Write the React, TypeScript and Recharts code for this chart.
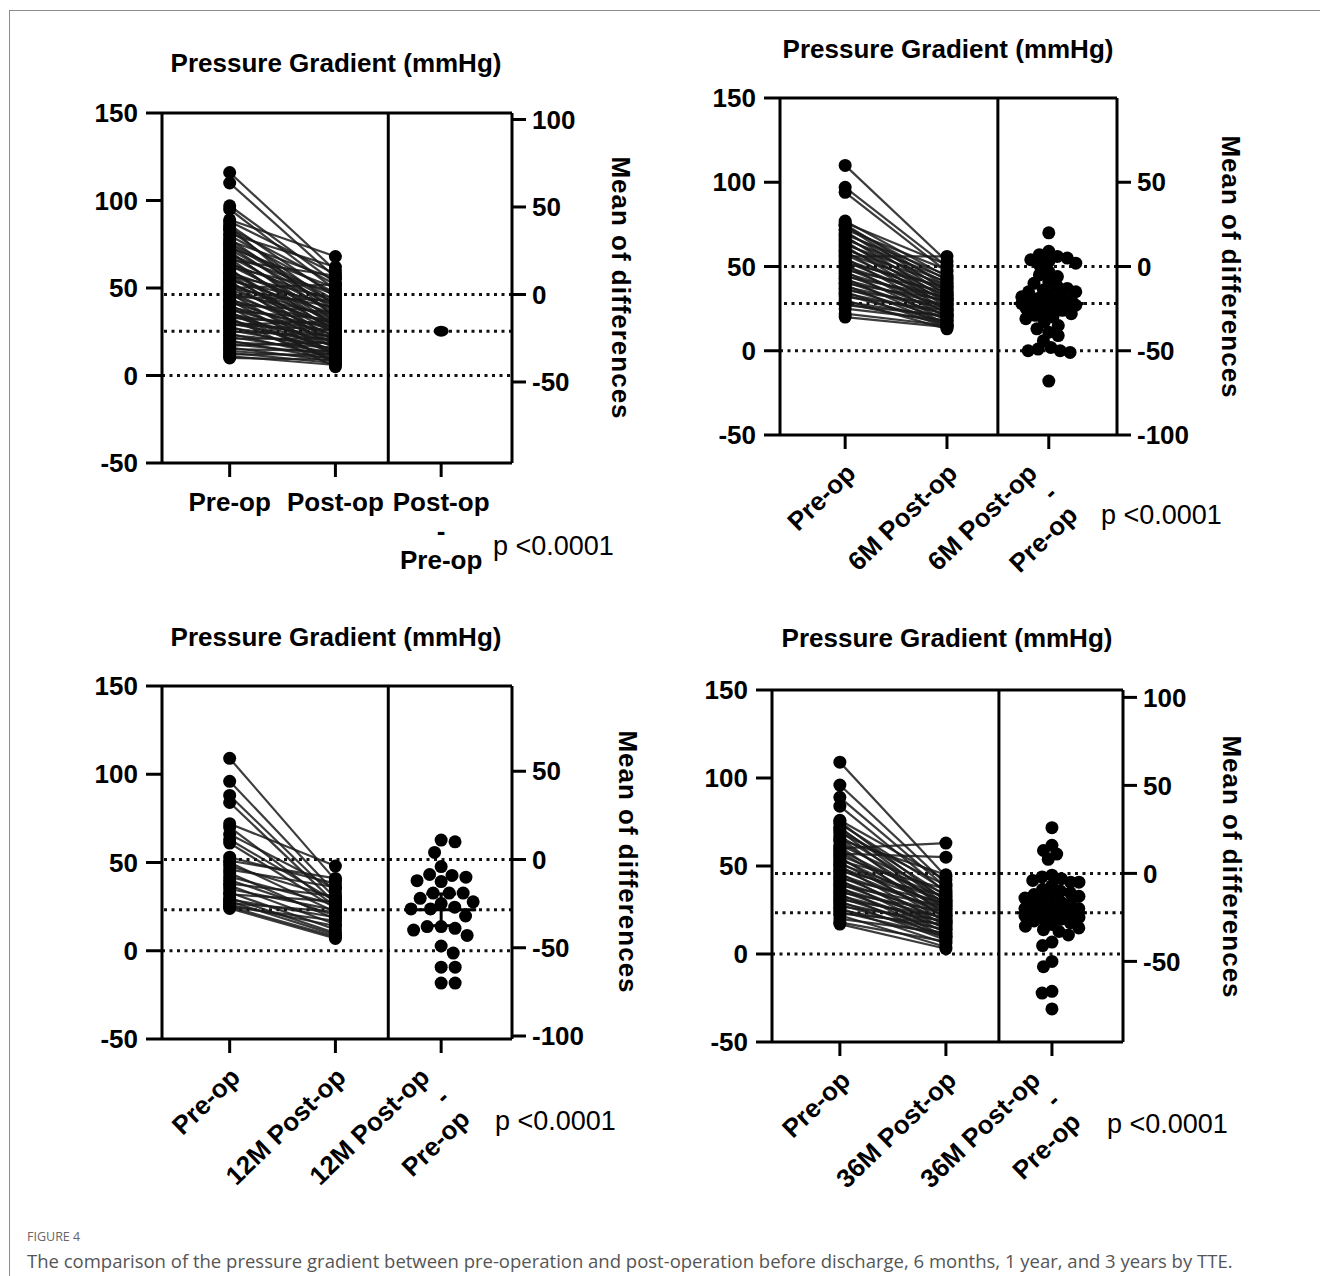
import React from 'react';
import { ComposedChart, Line, Scatter, XAxis, YAxis, ReferenceLine, ErrorBar } from 'recharts';

const FONT = '"Liberation Sans", Arial, Helvetica, sans-serif';
const CAPTION_FONT = '"Open Sans", "Noto Sans", sans-serif';

// ---------------- shared text / ticks ----------------
const titleText = 'Pressure Gradient (mmHg)';
const rightAxisTitle = 'Mean of differences';
const pValueText = 'p <0.0001';
const leftTicks = [-50, 0, 50, 100, 150];
const xPositions = [0, 1, 2];
const figureLabel = 'FIGURE 4';
const captionText =
  'The comparison of the pressure gradient between pre-operation and post-operation before discharge, 6 months, 1 year, and 3 years by TTE.';

// ---------------- Panel A: before discharge ----------------
const labelsA = [['Pre-op'], ['Post-op'], ['Post-op', '-', 'Pre-op']];
const preA = [116, 110, 97, 95, 89, 88, 86, 84, 83, 81, 80, 78, 77, 76, 74, 73, 72, 70, 69, 68, 66, 65, 64, 63, 62, 60, 59, 58, 57, 56, 55, 54, 53, 52, 51, 50, 49, 48, 47, 46, 45, 44, 43, 42, 41, 40, 39, 38, 37, 36, 35, 34, 33, 32, 31, 30, 29, 28, 27, 26, 25, 24, 23, 22, 21, 20, 19, 18, 17, 16, 15, 14, 13, 12, 11, 10, 71, 61, 54, 47, 39, 33, 85, 67, 58, 29, 43, 50, 75, 36];
const postA = [60, 56, 53, 49, 68, 58, 45, 52, 40, 62, 47, 37, 55, 43, 34, 50, 39, 31, 46, 36, 57, 28, 42, 33, 48, 26, 38, 30, 44, 24, 35, 41, 27, 32, 22, 39, 29, 20, 34, 25, 43, 18, 30, 23, 36, 16, 27, 21, 32, 14, 25, 19, 29, 13, 22, 17, 26, 11, 20, 15, 23, 10, 18, 13, 21, 9, 16, 12, 19, 8, 14, 10, 7, 12, 6, 9, 28, 19, 15, 12, 7, 5, 33, 24, 17, 31, 11, 52, 41, 8];
const diffA: number[] = [];
const meanA = -21;
const ciA = 0;
const rightTicksA = [-50, 0, 50, 100];
const rightZeroA = 46.3; // left-axis value where right axis = 0

// ---------------- Panel B: 6 months ----------------
const labelsB = [['Pre-op'], ['6M Post-op'], ['6M Post-op', '-', 'Pre-op']];
const preB = [110, 97, 94, 77, 76, 75, 74, 74, 72, 71, 70, 69, 68, 67, 66, 65, 64, 63, 62, 61, 60, 59, 58, 57, 56, 55, 54, 53, 52, 51, 50, 49, 48, 47, 46, 45, 44, 43, 42, 41, 40, 39, 38, 37, 36, 35, 34, 33, 32, 30, 29, 28, 27, 25, 22, 20];
const postB = [53, 50, 47, 44, 51, 38, 42, 35, 48, 33, 40, 45, 30, 37, 43, 28, 34, 41, 26, 32, 39, 24, 36, 30, 56, 22, 33, 28, 38, 20, 31, 25, 35, 18, 29, 23, 32, 16, 27, 21, 30, 15, 25, 19, 27, 14, 22, 17, 24, 13, 20, 16, 21, 18, 15, 14];
const diffB = [20, 9, 7, 6, 5, 4, 3, 2, 1, -3, -5, -6, -9, -10, -12, -13, -14, -15, -15, -16, -17, -18, -19, -20, -20, -21, -21, -22, -22, -23, -23, -24, -24, -25, -26, -27, -28, -29, -30, -31, -33, -35, -37, -39, -41, -44, -48, -49, -50, -50, -51, -68];
const meanB = -22;
const ciB = 5;
const rightTicksB = [-100, -50, 0, 50];
const rightZeroB = 50;

// ---------------- Panel C: 12 months ----------------
const labelsC = [['Pre-op'], ['12M Post-op'], ['12M Post-op', '-', 'Pre-op']];
const preC = [109, 96, 88, 84, 72, 70, 66, 63, 61, 53, 51, 50, 48, 46, 44, 42, 40, 38, 37, 35, 33, 32, 30, 29, 28, 27, 26, 25, 25, 24];
const postC = [40, 33, 30, 27, 48, 25, 35, 28, 24, 38, 41, 22, 30, 36, 18, 26, 20, 31, 15, 23, 12, 28, 10, 19, 9, 22, 14, 8, 17, 7];
const diffC = [11, 10, 4, -4, -8.5, -9, -10, -12, -12.5, -19, -19, -19, -22, -24, -25, -27, -28, -28, -32, -38, -38, -39, -40, -43, -49, -53, -61, -61, -70, -70];
const meanC = -28.5;
const ciC = 9;
const rightTicksC = [-100, -50, 0, 50];
const rightZeroC = 51.7;

// ---------------- Panel D: 36 months ----------------
const labelsD = [['Pre-op'], ['36M Post-op'], ['36M Post-op', '-', 'Pre-op']];
const preD = [109, 96, 89, 84, 76, 75, 74, 72, 71, 70, 69, 67, 66, 65, 64, 62, 61, 60, 59, 58, 57, 56, 55, 54, 53, 52, 51, 50, 49, 48, 47, 46, 45, 44, 43, 42, 41, 40, 39, 38, 37, 36, 35, 34, 33, 32, 31, 30, 29, 28, 27, 26, 25, 24, 23, 22, 20, 18, 17];
const postD = [44, 40, 38, 35, 42, 30, 36, 28, 33, 25, 39, 31, 22, 45, 27, 34, 20, 63, 29, 24, 55, 32, 18, 26, 37, 21, 30, 16, 28, 23, 33, 14, 25, 19, 29, 12, 22, 17, 27, 10, 20, 15, 24, 9, 18, 13, 21, 8, 16, 11, 19, 6, 14, 10, 17, 4, 12, 7, 3];
const diffD = [26, 16, 13, 11, 8, -1, -2, -3, -4, -5, -5, -7, -9, -10, -11, -12, -13, -13, -14, -15, -16, -17, -18, -19, -20, -20, -21, -21, -22, -22, -23, -24, -25, -26, -26, -27, -28, -29, -30, -31, -32, -33, -35, -39, -41, -50, -53, -67, -68, -77];
const meanD = -22.4;
const ciD = 5;
const rightTicksD = [-50, 0, 50, 100];
const rightZeroD = 45.8;

// ---------------- layout ----------------
const X_DOMAIN: [number, number] = [-0.64, 2.67];
const DOT_R = 6.5;

type Box = { x0: number; x1: number; y0: number; y1: number };
type Cfg = {
  id: string;
  frame: { x: number; y: number; w: number; h: number };
  box: Box;
  labels: string[][];
  rotated: boolean;
  pre: number[];
  post: number[];
  diffs: number[];
  mean: number;
  ci: number;
  rightTicks: number[];
  rightZero: number;
  swarmGap: number;
  swarmHalf: number;
  title: [number, number];
  pval: [number, number];
  rTitle: [number, number];
};

const panels: Cfg[] = [
  { id: 'A', frame: { x: 0, y: 0, w: 660, h: 600 }, box: { x0: 162, x1: 512, y0: 113, y1: 463 }, labels: labelsA, rotated: false, pre: preA, post: postA, diffs: diffA, mean: meanA, ci: ciA, rightTicks: rightTicksA, rightZero: rightZeroA, swarmGap: 12, swarmHalf: 30, title: [336, 63], pval: [493, 546], rTitle: [621, 288] },
  { id: 'B', frame: { x: 660, y: 0, w: 660, h: 600 }, box: { x0: 780, x1: 1117, y0: 98, y1: 435 }, labels: labelsB, rotated: true, pre: preB, post: postB, diffs: diffB, mean: meanB, ci: ciB, rightTicks: rightTicksB, rightZero: rightZeroB, swarmGap: 10, swarmHalf: 27, title: [948, 49], pval: [1101, 515], rTitle: [1231, 267] },
  { id: 'C', frame: { x: 0, y: 600, w: 660, h: 600 }, box: { x0: 162, x1: 512, y0: 686, y1: 1039 }, labels: labelsC, rotated: true, pre: preC, post: postC, diffs: diffC, mean: meanC, ci: ciC, rightTicks: rightTicksC, rightZero: rightZeroC, swarmGap: 14, swarmHalf: 32, title: [336, 637], pval: [495, 1121], rTitle: [628, 862] },
  { id: 'D', frame: { x: 660, y: 600, w: 660, h: 600 }, box: { x0: 772, x1: 1123, y0: 690, y1: 1042 }, labels: labelsD, rotated: true, pre: preD, post: postD, diffs: diffD, mean: meanD, ci: ciD, rightTicks: rightTicksD, rightZero: rightZeroD, swarmGap: 10, swarmHalf: 27, title: [947, 638], pval: [1107, 1124], rTitle: [1232, 867] },
];

// deterministic beeswarm layout (pixel offsets) for the difference column,
// bounded to +/- half px; when the column is full the least-crowded slot is used
function swarmOffsets(values: number[], pxPerUnit: number, d: number, half: number): number[] {
  const order = values.map((_, i) => i).sort((a, b) => values[b] - values[a]);
  const placed: { x: number; y: number }[] = [];
  const out = new Array(values.length).fill(0);
  const minDist = (c: number, y: number) =>
    placed.reduce((m, p) => Math.min(m, Math.hypot(p.x - c, p.y - y)), Infinity);
  order.forEach((i, k) => {
    const y = values[i] * pxPerUnit;
    const cands = [0];
    for (const p of placed) {
      const dy = Math.abs(p.y - y);
      if (dy < d) {
        const dx = Math.sqrt(d * d - dy * dy);
        cands.push(p.x + dx, p.x - dx);
      }
    }
    const sgn = k % 2 === 0 ? 1 : -1;
    const ok = cands
      .filter((c) => Math.abs(c) <= half)
      .sort((a, b) => Math.abs(a) - Math.abs(b) || sgn * (a - b));
    let chosen: number | null = null;
    for (const c of ok) {
      if (minDist(c, y) >= d - 0.01) {
        chosen = c;
        break;
      }
    }
    if (chosen === null) {
      let best = 0;
      let bestD = -1;
      for (let s = -half; s <= half + 0.001; s += half / 6) {
        const md = minDist(s, y);
        if (md > bestD + 0.01) {
          bestD = md;
          best = s;
        }
      }
      chosen = best;
    }
    placed.push({ x: chosen, y });
    out[i] = chosen;
  });
  return out;
}

const tickTextStyle = { fontFamily: FONT, fontSize: 26, fontWeight: 700 } as const;

function makeTick(labels: string[][], rotated: boolean) {
  return function Tick(props: any) {
    const { x, y, payload } = props;
    const lines = labels[Math.round(payload.value)] || [];
    if (!rotated) {
      return (
        <g>
          {lines.map((t, i) => (
            <text key={i} x={x} y={y + 25 + i * 29} textAnchor="middle" dominantBaseline="central" fill="#000" style={tickTextStyle}>
              {t}
            </text>
          ))}
        </g>
      );
    }
    const a = 44;
    const px = Math.sin((a * Math.PI) / 180);
    const py = Math.cos((a * Math.PI) / 180);
    const shift = lines.length > 1 ? -22 : 0;
    return (
      <g>
        {lines.map((t, i) => {
          const bx = x + 12 + shift + i * 29 * px;
          const by = y + 26 + i * 29 * py;
          return (
            <text key={i} x={bx} y={by} textAnchor="end" transform={`rotate(-${a}, ${bx}, ${by})`} fill="#000" style={tickTextStyle}>
              {t}
            </text>
          );
        })}
      </g>
    );
  };
}

const dotShape = (p: any) => <circle cx={p.cx} cy={p.cy} r={DOT_R} fill="#000" />;

function Panel({ cfg }: { cfg: Cfg }) {
  const { frame, box } = cfg;
  const leftW = box.x0 - frame.x;
  const rightW = frame.x + frame.w - box.x1;
  const topM = box.y0 - frame.y;
  const xH = frame.y + frame.h - box.y1;
  const plotW = box.x1 - box.x0;
  const plotH = box.y1 - box.y0;
  const pxX = plotW / (X_DOMAIN[1] - X_DOMAIN[0]);
  const pxY = plotH / 200;
  const offs = swarmOffsets(cfg.diffs, pxY, cfg.swarmGap, cfg.swarmHalf).map((v) => v / pxX);
  const preData = cfg.pre.map((v) => ({ x: xPositions[0], y: v }));
  const postData = cfg.post.map((v) => ({ x: xPositions[1], y: v }));
  const diffData = cfg.diffs.map((v, i) => ({ x: xPositions[2] + offs[i], y: v }));
  const meanData = [{ x: xPositions[2], y: cfg.mean, ci: cfg.ci }];
  const isA = cfg.diffs.length === 0;
  const meanShape = (p: any) =>
    isA ? (
      <ellipse cx={p.cx} cy={p.cy} rx={7.5} ry={5.5} fill="#000" />
    ) : (
      <line x1={p.cx - 35} x2={p.cx + 35} y1={p.cy} y2={p.cy} stroke="#000" strokeWidth={3} />
    );
  const axisStyle = { stroke: '#000', strokeWidth: 3 };
  const dotted = { stroke: '#111', strokeWidth: 3, strokeDasharray: '3 4.5' };
  const yTick = { fill: '#000', ...tickTextStyle };
  return (
    <div style={{ position: 'absolute', left: frame.x, top: frame.y, width: frame.w, height: frame.h }}>
      <ComposedChart width={frame.w} height={frame.h} margin={{ top: topM, right: 0, bottom: 0, left: 0 }}>
        <XAxis
          dataKey="x"
          type="number"
          domain={X_DOMAIN}
          ticks={xPositions}
          allowDataOverflow
          interval={0}
          height={xH}
          tickSize={14}
          tickMargin={0}
          axisLine={axisStyle}
          tickLine={axisStyle}
          tick={makeTick(cfg.labels, cfg.rotated)}
        />
        <YAxis
          yAxisId="L"
          dataKey="y"
          type="number"
          orientation="left"
          width={leftW}
          domain={[-50, 150]}
          ticks={leftTicks}
          allowDataOverflow
          interval={0}
          tickSize={16}
          tickMargin={8}
          axisLine={axisStyle}
          tickLine={axisStyle}
          tick={yTick}
        />
        <YAxis
          yAxisId="R"
          dataKey="y"
          type="number"
          orientation="right"
          width={rightW}
          domain={[-50 - cfg.rightZero, 150 - cfg.rightZero]}
          ticks={cfg.rightTicks}
          allowDataOverflow
          interval={0}
          tickSize={14}
          tickMargin={6}
          axisLine={axisStyle}
          tickLine={axisStyle}
          tick={yTick}
        />
        <ReferenceLine yAxisId="L" y={0} {...dotted} ifOverflow="visible" />
        <ReferenceLine yAxisId="R" y={0} {...dotted} ifOverflow="visible" />
        <ReferenceLine yAxisId="R" y={cfg.mean} {...dotted} ifOverflow="visible" />
        <ReferenceLine yAxisId="L" x={1.5} stroke="#000" strokeWidth={3} ifOverflow="visible" />
        <ReferenceLine yAxisId="L" y={150} stroke="#000" strokeWidth={3} ifOverflow="visible" />
        {cfg.pre.map((v, i) => (
          <Line
            key={`l${i}`}
            yAxisId="L"
            data={[
              { x: xPositions[0], y: v },
              { x: xPositions[1], y: cfg.post[i] },
            ]}
            dataKey="y"
            type="linear"
            stroke="#1a1a1a"
            strokeOpacity={0.85}
            strokeWidth={2.2}
            dot={false}
            activeDot={false}
            isAnimationActive={false}
          />
        ))}
        <Scatter yAxisId="L" data={preData} shape={dotShape} isAnimationActive={false} />
        <Scatter yAxisId="L" data={postData} shape={dotShape} isAnimationActive={false} />
        {cfg.diffs.length > 0 && <Scatter yAxisId="R" data={diffData} shape={dotShape} isAnimationActive={false} />}
        <Scatter yAxisId="R" data={meanData} shape={meanShape} isAnimationActive={false}>
          {!isA && <ErrorBar dataKey="ci" direction="y" width={15} stroke="#000" strokeWidth={3} />}
        </Scatter>
      </ComposedChart>
    </div>
  );
}

export default function App() {
  return (
    <div style={{ position: 'absolute', left: 0, top: 0, width: 1320, height: 1276, background: '#fff', overflow: 'hidden' }}>
      <div style={{ position: 'absolute', left: 9, top: 10, width: 1320, height: 1276, borderTop: '1.5px solid #8c8c8c', borderLeft: '1.5px solid #8c8c8c' }} />
      {panels.map((p) => (
        <Panel key={p.id} cfg={p} />
      ))}
      {panels.map((p) => (
        <React.Fragment key={`t${p.id}`}>
          <div style={{ position: 'absolute', left: p.title[0], top: p.title[1], transform: 'translate(-50%, -50%)', fontFamily: FONT, fontWeight: 700, fontSize: 26, lineHeight: 1, whiteSpace: 'nowrap', color: '#000' }}>
            {titleText}
          </div>
          <div style={{ position: 'absolute', left: p.pval[0], top: p.pval[1], transform: 'translateY(-50%)', fontFamily: FONT, fontSize: 27, lineHeight: 1, whiteSpace: 'nowrap', color: '#000' }}>
            {pValueText}
          </div>
          <div style={{ position: 'absolute', left: p.rTitle[0], top: p.rTitle[1], transform: 'translate(-50%, -50%)', writingMode: 'vertical-rl', fontFamily: FONT, fontWeight: 700, fontSize: 26, letterSpacing: 1, lineHeight: 1, whiteSpace: 'nowrap', color: '#000' }}>
            {rightAxisTitle}
          </div>
        </React.Fragment>
      ))}
      <div style={{ position: 'absolute', left: 27, top: 1237, transform: 'translateY(-50%)', fontFamily: CAPTION_FONT, fontSize: 12.5, lineHeight: 1, color: '#666' }}>
        {figureLabel}
      </div>
      <div style={{ position: 'absolute', left: 27, top: 1261, transform: 'translateY(-50%)', fontFamily: CAPTION_FONT, fontSize: 18.5, lineHeight: 1, color: '#555', whiteSpace: 'nowrap' }}>
        {captionText}
      </div>
    </div>
  );
}
